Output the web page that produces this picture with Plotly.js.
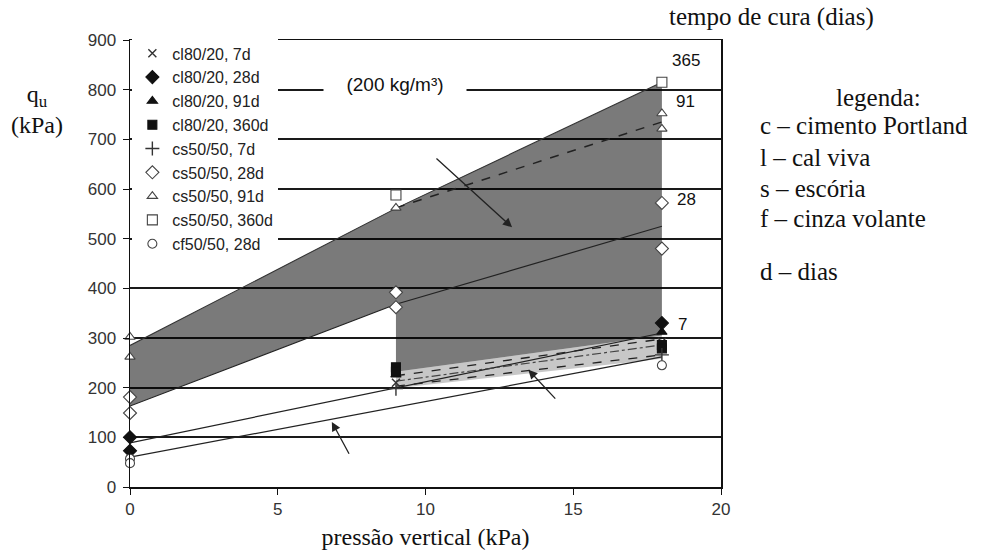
<!DOCTYPE html>
<html><head><meta charset="utf-8">
<script src="https://cdn.plot.ly/plotly-3.0.1.min.js"></script>
<style>html,body{margin:0;padding:0;background:#fff}#chart{width:985px;height:554px}</style>
</head><body><div id="chart"></div>
<script>
// ---------- data ----------
const seriesNames = ['cl80/20, 7d','cl80/20, 28d','cl80/20, 91d','cl80/20, 360d',
                     'cs50/50, 7d','cs50/50, 28d','cs50/50, 91d','cs50/50, 360d','cf50/50, 28d'];
const seriesX = [
  [9,18],
  [0,0,18],
  [9,18],
  [9,9,18,18],
  [9,18],
  [0,0,9,9,18,18],
  [0,0,9,18,18],
  [9,18],
  [0,0,18]
];
const seriesY = [
  [210,292],
  [100,73,330],
  [226,312],
  [241,232,286,279],
  [198,266],
  [181,149,392,362,572,480],
  [302,262,562,752,721],
  [588,815],
  [57,48,245]
];

// shaded zones
const darkZoneX = [0,9,18,18,9,9,0];
const darkZoneY = [285,561,815,305,232,368,163];
const lightZoneX = [9,18,18,9];
const lightZoneY = [232,305,258,199];

// trend lines
const upperLineX = [0,9,18];   const upperLineY = [285,561,815];
const lowerLineX = [0,9,18];   const lowerLineY = [163,368,525];
const line91X = [9,18];        const line91Y = [562,735];
const lineAX = [0,18];         const lineAY = [89,310];
const lineBX = [0,18];         const lineBY = [60,262];
const band1X = [9,18];         const band1Y = [224,298];
const band2X = [9,18];         const band2Y = [213,286];
const band3X = [9,18];         const band3Y = [203,266];

// curing-time labels
const cureLabels = ['365','91','28','7'];
const cureLabelX = [18.82,18.8,18.82,18.7];
const cureLabelY = [858,777,578,328];

// arrows (head, tail)
const arrowHeadX = [12.93,13.48,6.83];
const arrowHeadY = [523,236,131];
const arrowTailX = [10.32,14.44,7.44];
const arrowTailY = [664,175,64];

const yTicks = [0,100,200,300,400,500,600,700,800,900];
const xTicks = [0,5,10,15,20];

// ---------- styles ----------
const symbols = ['x-thin','diamond','triangle-up','square','cross-thin','diamond','triangle-up','square','circle'];
const fills   = ['#333','#111','#111','#111','#333','#fff','#fff','#fff','#fff'];
const sizes   = [8,10,9,9,10,10,9,10,9];
const sans = 'Liberation Sans, Arial, sans-serif';
const serif = 'Liberation Serif, Times New Roman, serif';

const traces = [];
traces.push({x:darkZoneX,y:darkZoneY,mode:'lines',fill:'toself',fillcolor:'rgba(0,0,0,0.52)',
  line:{width:0},showlegend:false,hoverinfo:'skip'});
traces.push({x:lightZoneX,y:lightZoneY,mode:'lines',fill:'toself',fillcolor:'rgba(0,0,0,0.22)',
  line:{width:0},showlegend:false,hoverinfo:'skip'});
function ln(x,y,dash,w,c){traces.push({x:x,y:y,mode:'lines',line:{color:c||'#222',width:w||1.2,dash:dash||'solid'},showlegend:false,hoverinfo:'skip'});}
ln(upperLineX,upperLineY,'solid',1.1,'#333');
ln(lowerLineX,lowerLineY,'solid',1.2);
ln(line91X,line91Y,'dash',1.5);
ln(lineAX,lineAY,'solid',1.2);
ln(lineBX,lineBY,'solid',1.2);
ln(band1X,band1Y,'dash',1.3);
ln(band2X,band2Y,'dashdot',1.2,'#444');
ln(band3X,band3Y,'dash',1.3);

seriesNames.forEach((n,i)=>{
  const thin = symbols[i].indexOf('thin')>=0;
  traces.push({x:seriesX[i],y:seriesY[i],name:n,type:'scatter',mode:'markers',cliponaxis:false,
    marker:{symbol:symbols[i],size:sizes[i],color:fills[i],
      line:{color:thin?'#333':(fills[i]==='#fff'?'#444':'#111'),width:thin?1.4:1.1}}});
});

const annotations = [];
cureLabels.forEach((t,i)=>annotations.push({x:cureLabelX[i],y:cureLabelY[i],xref:'x',yref:'y',text:t,showarrow:false,
  font:{family:sans,size:17,color:'#111'}}));
arrowHeadX.forEach((hx,i)=>annotations.push({x:hx,y:arrowHeadY[i],ax:arrowTailX[i],ay:arrowTailY[i],axref:'x',ayref:'y',
  xref:'x',yref:'y',text:'',showarrow:true,arrowhead:2,arrowsize:1.4,arrowwidth:1.3,arrowcolor:'#222'}));
annotations.push({x:8.97,y:811,xref:'x',yref:'y',text:'(200 kg/m³)',showarrow:false,bgcolor:'#fff',width:140,
  font:{family:sans,size:19,color:'#111'}});
function ptxt(t,px,py,anchor,size){annotations.push({x:(px-130)/591,y:(487-py)/447,xref:'paper',yref:'paper',text:t,showarrow:false,
  xanchor:anchor||'left',yanchor:'middle',font:{family:serif,size:size||25,color:'#111'}});}
ptxt('tempo de cura (dias)',771,17,'center');
ptxt('legenda:',878,97,'center');
ptxt('c – cimento Portland',758,125);
ptxt('l – cal viva',758,157);
ptxt('s – escória',758,188);
ptxt('f – cinza volante',758,218);
ptxt('d – dias',758,271);
ptxt('q<sub>u</sub><br>(kPa)',37,109,'center',24);

const layout = {
  width:985,height:554,paper_bgcolor:'#fff',plot_bgcolor:'#fff',
  margin:{l:130,r:264,t:40,b:67},
  showlegend:true,
  legend:{x:0.004,y:1.008,xanchor:'left',yanchor:'top',bgcolor:'#fff',borderwidth:0,
    font:{family:sans,size:16,color:'#222'},tracegroupgap:0},
  xaxis:{range:[0,20],tickvals:xTicks,ticktext:xTicks.map(String),showgrid:false,zeroline:false,
    showline:true,linecolor:'#111',linewidth:1.5,mirror:true,ticks:'outside',ticklen:6,tickcolor:'#111',
    tickfont:{family:sans,size:17,color:'#333'},
    title:{text:'pressão vertical (kPa)',font:{family:serif,size:24,color:'#111'},standoff:10}},
  yaxis:{range:[0,900],tickvals:yTicks,ticktext:yTicks.map(String),showgrid:true,gridcolor:'#1a1a1a',gridwidth:2,
    zeroline:false,showline:true,linecolor:'#111',linewidth:1.5,mirror:true,ticks:'outside',ticklen:6,tickcolor:'#111',
    ticklabelstandoff:3,tickfont:{family:sans,size:17,color:'#333'}},
  annotations:annotations
};
Plotly.newPlot('chart',traces,layout,{displayModeBar:false,staticPlot:true});
</script></body></html>
